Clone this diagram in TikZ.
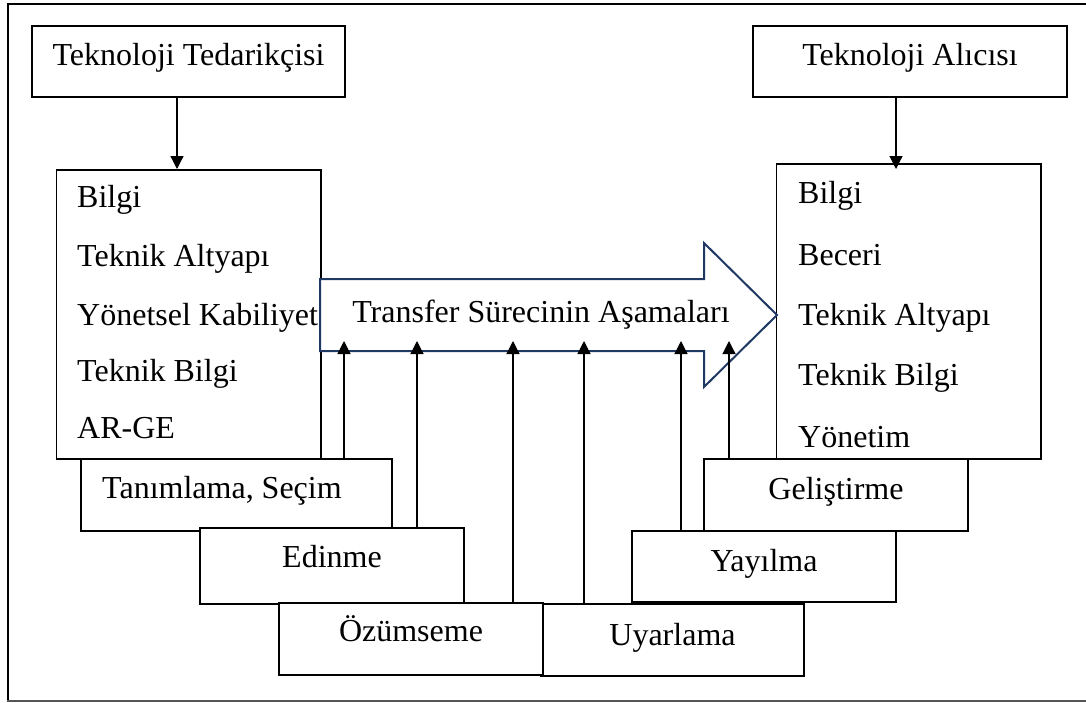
\documentclass[tikz,border=0pt]{standalone}
\usepackage{fontspec}
\setmainfont{Liberation Serif}
\usetikzlibrary{arrows.meta}
\definecolor{navy}{HTML}{203864}
\definecolor{framegray}{HTML}{555555}
\begin{document}
\begin{tikzpicture}[x=1pt,y=-1pt,
  every node/.style={font=\fontsize{32}{38}\selectfont},
  box/.style={draw,fill=white,line width=1.2pt,inner sep=0pt},
  txt/.style={inner sep=0pt,anchor=base west},
  ctxt/.style={inner sep=0pt,anchor=base},
  conn/.style={line width=1.2pt,-{Triangle[length=13pt,width=13pt]}}]
\useasboundingbox (0,0) rectangle (1086,702);
% frame
\draw[line width=1.5pt] (1086,4) -- (8,4) -- (8,700);
\draw[framegray,line width=2.5pt] (7,700.8) -- (1086,700.8);
% header boxes
\node[box,minimum width=313pt,minimum height=71pt] (sup) at (188.5,61.5) {};
\node[ctxt] (supt) at (188.5,65) {Teknoloji Tedarikçisi};
\node[box,minimum width=314pt,minimum height=71pt] (rec) at (910,61.5) {};
\node[ctxt] (rect) at (910,65) {Teknoloji Alıcısı};
% list boxes
\node[box,minimum width=264.5pt,minimum height=289pt] (lb) at (188.75,314.5) {};
\node[txt] (l1) at (77,207) {Bilgi};
\node[txt] (l2) at (77,266) {Teknik Altyapı};
\node[txt] (l3) at (77,325) {Yönetsel Kabiliyet};
\node[txt] (l4) at (77,381) {Teknik Bilgi};
\node[txt] (l5) at (77,438) {AR-GE};
\node[box,minimum width=264.5pt,minimum height=295pt] (rb) at (908.75,311.5) {};
\node[txt] (r1) at (798,203) {Bilgi};
\node[txt] (r2) at (798,265) {Beceri};
\node[txt] (r3) at (798,325) {Teknik Altyapı};
\node[txt] (r4) at (798,385) {Teknik Bilgi};
\node[txt] (r5) at (798,447) {Yönetim};
% down arrows
\coordinate (dl) at (177,169);
\coordinate (dr) at (896,169);
\draw[conn] (sup.south -| dl) -- (dl);
\draw[conn] (rec.south -| dr) -- (dr);
% big arrow
\draw[navy,fill=white,line width=2pt,line join=miter]
  (320,279) -- (704,279) -- (704,243) -- (777,315) -- (704,387) -- (704,351) -- (320,351) -- cycle;
\node[ctxt] (tr) at (541,322) {Transfer Sürecinin Aşamaları};
% stage boxes
\node[box,minimum width=311pt,minimum height=72pt] (tanim) at (236.5,495) {};
\node[txt] (tanimt) at (102,498) {Tanımlama, Seçim};
\node[box,minimum width=264pt,minimum height=76pt] (edin) at (332,566) {};
\node[ctxt] (edint) at (332,567) {Edinme};
\node[box,fill=none,minimum width=263pt,minimum height=72pt] (uyar) at (672.5,640) {};
\node[box,minimum width=264pt,minimum height=72pt] (ozum) at (411,639) {};
\node[ctxt] (ozumt) at (411,641) {Özümseme};
\node[ctxt] (uyart) at (672.5,645) {Uyarlama};
\node[box,minimum width=264pt,minimum height=72pt] (gelis) at (836,495) {};
\node[ctxt] (gelist) at (836,499) {Geliştirme};
\node[box,minimum width=264pt,minimum height=71pt] (yayil) at (764,566.5) {};
\node[ctxt] (yayilt) at (764,571) {Yayılma};
% up arrows
\coordinate (u1) at (344,341);
\coordinate (u2) at (417,341);
\coordinate (u3) at (513,341);
\coordinate (u4) at (584,341);
\coordinate (u5) at (681,341);
\coordinate (u6) at (729,341);
\draw[conn] (tanim.north -| u1) -- (u1);
\draw[conn] (edin.north -| u2) -- (u2);
\draw[conn] (ozum.north -| u3) -- (u3);
\draw[conn] (uyar.north -| u4) -- (u4);
\draw[conn] (yayil.north -| u5) -- (u5);
\draw[conn] (gelis.north -| u6) -- (u6);
\end{tikzpicture}
\end{document}
